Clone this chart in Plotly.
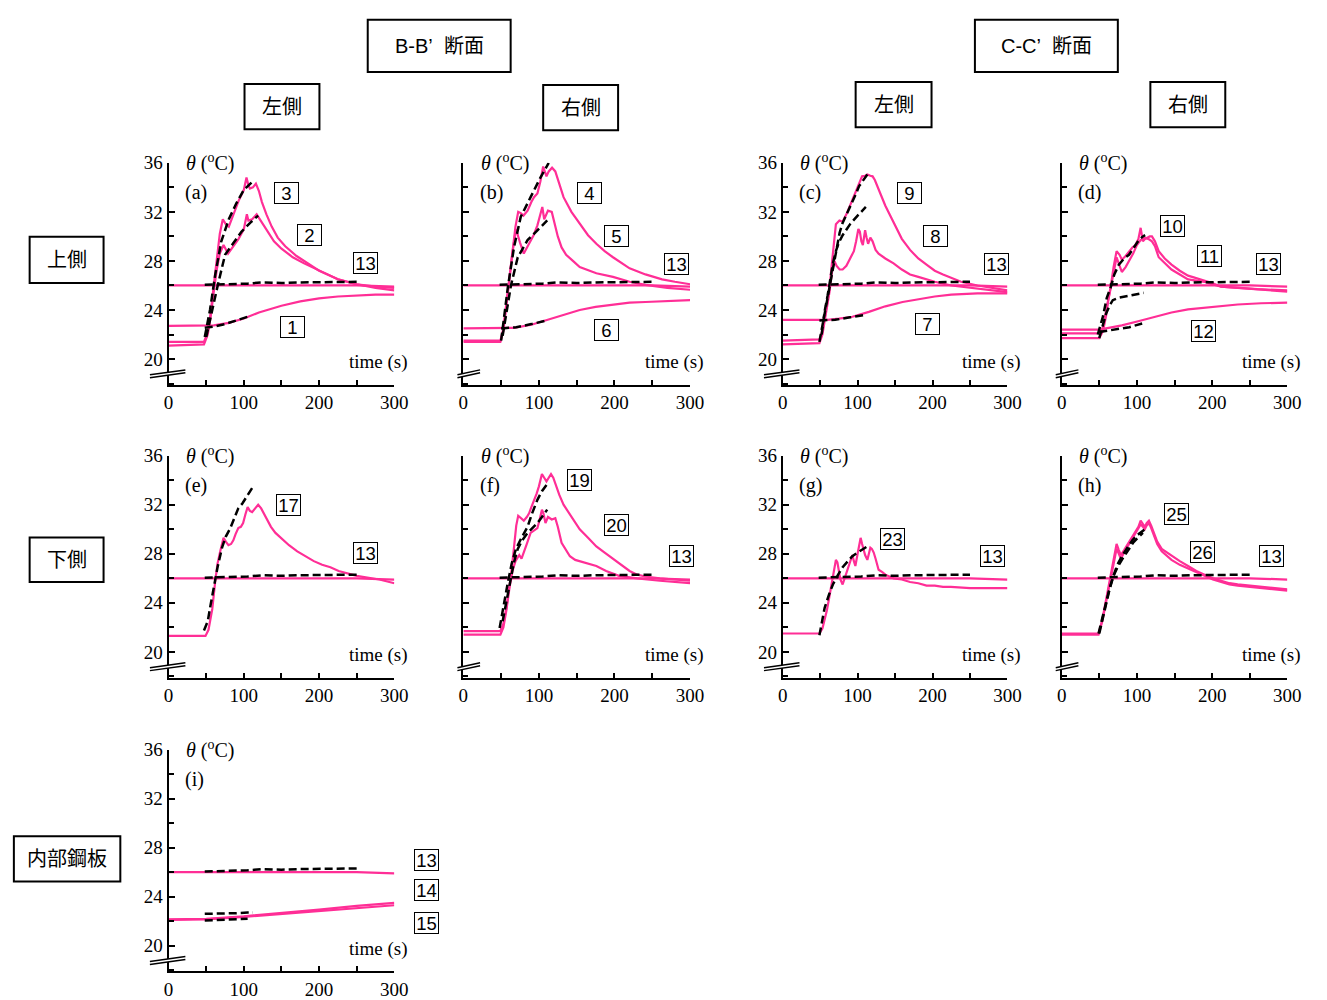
import plotly.graph_objects as go

W, H = 1327, 1000
PINK = "#FF2E96"
SERIF = "Liberation Serif, Times New Roman, serif"
SANS = "Liberation Sans, Arial, Noto Sans CJK JP, sans-serif"

# ---------------- data (time s, temperature degC) ----------------
# sensor 13 (appears in every panel)
L13_T = [0, 50, 100, 150, 200, 250, 300]
L13_V = [26.0, 26.0, 26.05, 26.05, 26.05, 26.0, 25.9]
D13_T = [48, 80, 105, 125, 150, 175, 200, 225, 250]
D13_V = [26.05, 26.1, 26.15, 26.25, 26.2, 26.25, 26.25, 26.3, 26.3]

# panel (a)
A1_T = [0, 48, 60, 80, 100, 120, 150, 175, 200, 225, 250, 275, 300]
A1_V = [22.7, 22.7, 22.75, 22.95, 23.3, 23.8, 24.35, 24.7, 24.95, 25.1, 25.2, 25.25, 25.25]
A1D_T = [48, 60, 75, 90, 105]
A1D_V = [22.55, 22.65, 22.85, 23.15, 23.45]
A2_T = [0, 47, 52, 56, 60, 64, 68, 73, 79, 86, 93, 100, 104, 106, 111, 117, 123, 130, 140, 150, 165, 180, 200, 225, 250, 275, 300]
A2_V = [21.1, 21.2, 22.0, 23.5, 25.5, 27.3, 28.6, 29.3, 28.6, 29.2, 29.8, 30.6, 31.8, 31.3, 31.4, 31.8, 31.2, 30.5, 29.6, 29.0, 28.3, 27.8, 27.2, 26.5, 26.1, 25.8, 25.6]
A3_T = [0, 47, 52, 56, 60, 64, 68, 72, 76, 80, 86, 93, 100, 103.5, 106, 108, 112, 116, 120, 124, 130, 137, 145, 155, 170, 185, 200, 225, 250, 275, 300]
A3_V = [21.4, 21.4, 22.2, 23.8, 26.0, 28.3, 30.2, 31.4, 31.0, 30.8, 31.8, 32.9, 33.8, 34.8, 34.2, 33.9, 34.0, 34.3, 33.7, 32.8, 31.8, 30.8, 29.9, 29.2, 28.4, 27.8, 27.2, 26.5, 26.1, 25.9, 25.8]
A2D_T = [50, 57, 66, 75, 85, 97, 110, 119]
A2D_V = [21.8, 23.8, 26.2, 28.5, 29.4, 30.4, 31.2, 31.7]
A3D_T = [48, 55, 62, 70, 80, 90, 100, 112]
A3D_V = [21.8, 24.0, 26.9, 29.6, 31.4, 32.7, 33.8, 34.5]

# panel (b)
B6_T = [0, 50, 67, 90, 111, 130, 154, 175, 198, 220, 241, 270, 300]
B6_V = [22.5, 22.5, 22.55, 22.8, 23.2, 23.6, 24.0, 24.25, 24.45, 24.6, 24.65, 24.75, 24.8]
B6D_T = [50, 70, 90, 111]
B6D_V = [22.5, 22.6, 22.85, 23.15]
B4_T = [0, 49, 53, 57, 61, 65, 69, 72.6, 76, 79.6, 85, 90, 93.5, 98, 102, 105.6, 110, 113, 117.4, 121.7, 127, 132.6, 143, 154, 165, 176, 187, 198, 210, 220, 241, 263, 280, 300]
B4_V = [21.5, 21.5, 22.5, 24.5, 26.8, 29.0, 30.8, 32.0, 31.9, 31.7, 32.1, 32.8, 33.2, 33.5, 34.5, 35.7, 34.9, 35.3, 35.6, 35.3, 34.2, 33.2, 32.0, 31.0, 30.1, 29.4, 28.8, 28.3, 27.8, 27.4, 26.9, 26.5, 26.3, 26.1]
B5_T = [0, 49, 53, 57, 61, 65, 69.6, 75, 80, 86, 93, 98, 103, 104.5, 107, 110, 112, 117, 121.7, 125, 130, 136, 145, 154, 176, 198, 220, 241, 270, 300]
B5_V = [21.4, 21.4, 22.3, 24.2, 26.5, 28.7, 30.6, 29.5, 28.6, 29.3, 30.1, 30.9, 32.2, 32.4, 31.4, 31.8, 32.1, 32.0, 30.8, 30.0, 29.1, 28.5, 28.0, 27.5, 27.0, 26.7, 26.3, 26.05, 25.8, 25.65]
B4D_T = [50, 54, 59, 67, 76, 89, 102, 113]
B4D_V = [21.5, 23.5, 25.9, 29.1, 31.6, 33.2, 34.8, 36.0]
B5D_T = [52, 57, 63, 72, 85, 98, 111]
B5D_V = [21.9, 23.8, 26.0, 28.3, 29.7, 30.5, 31.3]

# panel (c)
C7_T = [0, 50, 60, 75, 93, 115, 137, 160, 181, 203, 225, 260, 300]
C7_V = [23.2, 23.2, 23.2, 23.3, 23.45, 23.85, 24.3, 24.65, 24.9, 25.1, 25.25, 25.35, 25.35]
C7D_T = [49, 70, 90, 111]
C7D_V = [23.15, 23.2, 23.4, 23.6]
C9_T = [0, 49, 53, 57, 62, 66, 71, 75.7, 80, 85, 89, 93, 97.7, 102, 106, 110, 113, 117, 120, 123, 126, 131, 137, 148, 159, 170, 181, 192, 203, 214, 225, 238, 260, 280, 300]
C9_V = [21.5, 21.6, 22.3, 23.6, 25.5, 28.0, 31.0, 31.3, 31.2, 31.8, 32.4, 33.0, 33.6, 34.3, 34.9, 34.95, 35.05, 34.95, 34.9, 34.6, 34.1, 33.4, 32.5, 31.1, 29.8, 28.9, 28.2, 27.7, 27.2, 26.9, 26.6, 26.3, 26.0, 25.8, 25.6]
C8_T = [0, 49, 53, 57, 62, 66, 69, 72, 76, 80, 85, 90, 95, 98, 101, 103, 105, 107, 110, 112, 114, 117, 120, 124, 128, 137, 148, 159, 170, 181, 192, 203, 225, 250, 275, 300]
C8_V = [21.2, 21.3, 22.0, 23.5, 25.3, 27.2, 28.0, 27.6, 27.3, 27.3, 27.6, 28.2, 28.8, 29.6, 30.6, 30.4, 29.6, 29.3, 30.5, 29.9, 29.4, 29.9, 29.6, 28.9, 28.6, 28.2, 27.8, 27.3, 26.9, 26.7, 26.5, 26.3, 26.0, 25.8, 25.6, 25.45]
C9D_T = [49, 55, 62, 69, 76, 80, 87, 93, 98, 102, 108, 113]
C9D_V = [21.4, 23.4, 25.7, 28.2, 30.3, 31.1, 32.0, 32.8, 33.5, 34.1, 34.6, 35.05]
C8D_T = [52, 56, 60, 64, 67, 71, 75, 80, 90, 100, 111]
C8D_V = [22.0, 23.9, 25.2, 26.8, 27.8, 28.8, 29.5, 30.1, 31.0, 31.7, 32.4]

# panel (d)
D12_T = [0, 50, 59, 80, 103, 125, 146, 168, 190, 212, 234, 265, 300]
D12_V = [22.4, 22.4, 22.5, 22.75, 23.1, 23.45, 23.8, 24.05, 24.2, 24.35, 24.45, 24.55, 24.6]
D12D_T = [50, 70, 90, 107]
D12D_V = [22.2, 22.4, 22.6, 22.9]
D10_T = [0, 50, 55, 59, 62, 65.5, 69, 73, 77, 80, 85, 90, 94, 98, 102, 105, 108, 111, 113.5, 117, 120, 124, 129, 137, 146, 157, 168, 179, 190, 200, 212, 234, 260, 300]
D10_V = [22.1, 22.1, 22.6, 23.8, 25.0, 26.0, 27.5, 28.8, 28.5, 28.1, 28.4, 28.8, 29.1, 29.3, 29.8, 30.7, 29.6, 29.8, 29.9, 30.0, 30.0, 29.6, 28.8, 28.2, 27.7, 27.2, 26.8, 26.6, 26.4, 26.2, 25.9, 25.8, 25.7, 25.6]
D11_T = [0, 50, 55, 59, 62, 66, 70, 73, 77, 80, 85, 90, 95, 100, 105, 110, 115, 120, 124, 129, 137, 146, 157, 168, 179, 190, 200, 212, 234, 260, 300]
D11_V = [21.7, 21.7, 22.3, 23.5, 24.8, 26.2, 27.6, 28.3, 27.6, 27.1, 27.5, 28.0, 28.6, 29.3, 29.7, 29.9, 29.8, 29.6, 29.2, 28.3, 27.8, 27.3, 26.9, 26.5, 26.4, 26.3, 26.1, 25.9, 25.8, 25.7, 25.5]
D10D_T = [48, 55, 60, 65.5, 70, 76, 83, 89.5, 96, 102.6, 108, 111]
D10D_V = [22.0, 23.5, 25.0, 25.9, 26.9, 27.7, 28.2, 28.5, 29.1, 29.7, 30.0, 30.1]
D11D_T = [50, 55, 59, 64, 68, 76, 85, 94, 102, 109]
D11D_V = [21.7, 22.8, 23.7, 24.4, 24.8, 25.0, 25.1, 25.2, 25.3, 25.4]

# panel (e)
E17_T = [0, 49, 53, 58, 62, 65, 68.6, 73, 76, 79.5, 83, 86, 89, 92.6, 96, 99, 102, 105, 108, 111, 115, 119, 123, 129, 136, 142, 149, 160, 171, 182, 193, 204, 215, 226, 237, 250, 260, 280, 300]
E17_V = [21.3, 21.3, 21.8, 23.5, 25.8, 27.2, 28.2, 29.3, 29.0, 28.7, 28.8, 29.1, 29.6, 30.1, 30.2, 30.5, 31.2, 31.8, 31.5, 31.4, 31.7, 32.0, 31.7, 31.0, 30.2, 29.7, 29.3, 28.7, 28.2, 27.8, 27.4, 27.1, 26.9, 26.6, 26.4, 26.2, 26.1, 25.9, 25.6]
E17D_T = [47, 52, 56, 60, 65, 71, 76, 82, 87, 92.6, 98, 103.5, 108, 113.5]
E17D_V = [21.75, 22.5, 23.9, 25.2, 26.9, 28.5, 29.4, 30.1, 30.9, 31.7, 32.1, 32.6, 33.1, 33.6]

# panel (f)
F19_T = [0, 49, 53, 57, 60, 63, 67, 70, 72.6, 76, 80, 84, 87, 90, 93.5, 97, 100, 104, 107, 110, 113, 116, 119, 121.7, 127, 132.6, 143, 154, 165, 176, 187, 198, 209, 220, 230, 241, 260, 280, 300]
F19_V = [21.7, 21.7, 22.3, 23.6, 25.0, 26.2, 28.5, 30.3, 31.1, 30.9, 30.7, 31.0, 31.3, 31.8, 32.3, 32.9, 33.5, 34.5, 34.2, 33.9, 34.2, 34.5, 34.2, 33.7, 32.8, 32.0, 31.0, 30.0, 29.3, 28.6, 28.1, 27.6, 27.1, 26.6, 26.3, 26.15, 26.0, 25.9, 25.8]
F20_T = [0, 49, 53, 57, 61, 65, 69, 74, 77, 80, 84, 89, 93, 98, 101, 104, 106, 108.7, 112, 115, 117, 121.7, 125, 130, 136, 141, 148, 154, 165, 176, 189, 206, 230, 260, 300]
F20_V = [21.4, 21.4, 22.0, 23.4, 25.2, 26.6, 27.4, 27.9, 27.6, 28.2, 28.8, 29.7, 29.9, 30.1, 30.8, 31.6, 31.3, 30.5, 31.0, 30.9, 30.8, 30.9, 30.2, 28.9, 28.3, 27.8, 27.5, 27.4, 27.2, 27.0, 26.6, 26.2, 26.0, 25.8, 25.6]
F19D_T = [48, 53, 59, 64, 69.6, 77, 85, 91, 98, 104, 111]
F19D_V = [21.95, 23.8, 25.7, 27.2, 28.4, 29.3, 30.2, 31.3, 32.4, 33.1, 33.7]
F20D_T = [52, 57, 63, 67, 72, 78, 85, 91, 98, 104, 111]
F20D_V = [22.5, 24.2, 26.0, 27.3, 28.4, 29.1, 29.7, 30.1, 30.5, 31.0, 31.6]

# panel (g)
G23_T = [0, 49, 53, 56, 59, 62, 64.5, 66.7, 69, 71, 73, 74.6, 77, 80, 82, 84, 88, 91, 93, 95, 97, 100, 102, 104, 106, 108, 110, 113, 115, 117, 119, 121.5, 124, 128, 133, 137, 148, 159, 170, 181, 192, 203, 214, 224.5, 250, 275, 300]
G23_V = [21.5, 21.5, 21.9, 22.6, 23.4, 24.4, 25.2, 25.8, 26.8, 27.5, 27.3, 26.6, 25.9, 25.5, 25.9, 26.3, 27.0, 27.6, 27.9, 27.4, 27.0, 28.0, 28.8, 29.3, 28.8, 28.2, 27.9, 27.5, 28.0, 28.5, 28.4, 28.1, 27.6, 26.7, 26.5, 26.3, 26.0, 25.9, 25.7, 25.6, 25.4, 25.4, 25.3, 25.3, 25.2, 25.2, 25.2]
G23D_T = [49, 53, 56, 62, 67, 74, 80, 87, 93, 100, 106, 113]
G23D_V = [21.35, 22.5, 23.6, 24.7, 25.5, 26.3, 26.9, 27.4, 27.8, 28.1, 28.3, 28.6]

# panel (h)
H25_T = [0, 49, 54, 59, 62, 65.5, 69, 73, 76, 78.6, 83, 87, 92, 98, 102, 105, 108, 110.5, 113, 116, 119, 122, 127, 133, 140, 146, 157, 168, 179, 190, 201, 212, 223, 234, 260, 280, 300]
H25_V = [21.5, 21.5, 22.6, 24.2, 25.3, 26.3, 27.6, 28.8, 28.3, 27.9, 28.3, 28.7, 29.2, 29.8, 30.2, 30.7, 30.4, 30.2, 30.5, 30.7, 30.3, 29.8, 29.0, 28.4, 28.1, 27.8, 27.4, 27.0, 26.6, 26.3, 26.0, 25.8, 25.6, 25.5, 25.35, 25.2, 25.1]
H26_T = [0, 49, 54, 59, 62, 65.5, 69, 73, 76, 78.6, 83, 87, 92, 98, 102, 105, 108, 110.5, 113, 116, 119, 122, 127, 133, 140, 146, 157, 168, 179, 190, 201, 212, 223, 234, 260, 280, 300]
H26_V = [21.4, 21.4, 22.5, 24.0, 25.1, 26.1, 27.3, 28.4, 28.0, 27.6, 28.1, 28.5, 29.0, 29.6, 30.0, 30.4, 30.2, 30.0, 30.3, 30.5, 30.1, 29.6, 28.8, 28.2, 27.8, 27.5, 27.1, 26.8, 26.5, 26.2, 25.9, 25.7, 25.5, 25.4, 25.25, 25.1, 25.0]
H25D_T = [49, 54, 59, 63, 67.7, 74, 81, 87, 94, 100, 107, 111]
H25D_V = [21.5, 22.8, 23.9, 25.0, 26.0, 27.1, 27.9, 28.5, 29.1, 29.5, 29.8, 30.0]
H26D_T = [50, 55, 60, 64, 69, 75, 82, 88, 95, 101, 108]
H26D_V = [21.5, 22.9, 24.1, 25.2, 26.2, 27.0, 27.7, 28.3, 28.9, 29.3, 29.7]

# panel (i)
I14_T = [0, 50, 100, 150, 200, 250, 300]
I14_V = [22.15, 22.2, 22.4, 22.65, 22.95, 23.25, 23.5]
I15_T = [0, 50, 100, 150, 200, 250, 300]
I15_V = [22.1, 22.15, 22.35, 22.6, 22.85, 23.1, 23.3]
I14D_T = [48, 75, 90, 105, 112]
I14D_V = [22.6, 22.6, 22.65, 22.7, 22.7]
I15D_T = [48, 70, 90, 105]
I15D_V = [22.05, 22.1, 22.15, 22.2]

Y_TICKS = [20, 24, 28, 32, 36]
X_TICKS = [0, 100, 200, 300]
Y_RANGE = [17.91, 36.0]

# ---------------- layout geometry (pixels) ----------------
COLS = [(166, 395), (465, 695), (789, 1017), (1072, 1301)]
ROWS = [(155, 380), (452, 677), (750, 975)]

PANELS = [
    dict(tag="(a)", col=0, row=0, pink=[(A1_T, A1_V), (A2_T, A2_V), (A3_T, A3_V)],
         dash=[(A1D_T, A1D_V), (A2D_T, A2D_V), (A3D_T, A3D_V)],
         labels=[("3", 286, 186), ("2", 309, 228), ("13", 366, 257), ("1", 292, 321)]),
    dict(tag="(b)", col=1, row=0, pink=[(B6_T, B6_V), (B4_T, B4_V), (B5_T, B5_V)],
         dash=[(B6D_T, B6D_V), (B4D_T, B4D_V), (B5D_T, B5D_V)],
         labels=[("4", 593, 186), ("5", 620, 229), ("13", 681, 258), ("6", 610, 325)]),
    dict(tag="(c)", col=2, row=0, pink=[(C7_T, C7_V), (C8_T, C8_V), (C9_T, C9_V)],
         dash=[(C7D_T, C7D_V), (C8D_T, C8D_V), (C9D_T, C9D_V)],
         labels=[("9", 918, 186), ("8", 944, 229), ("13", 1006, 258), ("7", 936, 318)]),
    dict(tag="(d)", col=3, row=0, pink=[(D12_T, D12_V), (D10_T, D10_V), (D11_T, D11_V)],
         dash=[(D12D_T, D12D_V), (D10D_T, D10D_V), (D11D_T, D11D_V)],
         labels=[("10", 1184, 219), ("11", 1222, 249), ("13", 1282, 258), ("12", 1216, 326)]),
    dict(tag="(e)", col=0, row=1, pink=[(E17_T, E17_V)], dash=[(E17D_T, E17D_V)],
         labels=[("17", 288, 502), ("13", 366, 551)]),
    dict(tag="(f)", col=1, row=1, pink=[(F19_T, F19_V), (F20_T, F20_V)],
         dash=[(F19D_T, F19D_V), (F20D_T, F20D_V)],
         labels=[("19", 583, 477), ("20", 620, 522), ("13", 686, 554)]),
    dict(tag="(g)", col=2, row=1, pink=[(G23_T, G23_V)], dash=[(G23D_T, G23D_V)],
         labels=[("23", 900, 537), ("13", 1002, 554)]),
    dict(tag="(h)", col=3, row=1, pink=[(H25_T, H25_V), (H26_T, H26_V)],
         dash=[(H25D_T, H25D_V), (H26D_T, H26D_V)],
         labels=[("25", 1189, 511), ("26", 1215, 550), ("13", 1285, 554)]),
    dict(tag="(i)", col=0, row=2, pink=[(I14_T, I14_V), (I15_T, I15_V)],
         dash=[(I14D_T, I14D_V), (I15D_T, I15D_V)],
         labels=[("13", 428, 862), ("14", 428, 893), ("15", 428, 926)]),
]


def px(x):
    return x / W


def py(y):
    return 1 - y / H


fig = go.Figure()
shapes = []
annotations = []

for i, p in enumerate(PANELS):
    n = "" if i == 0 else str(i + 1)
    xa, ya = "x" + n, "y" + n
    x0, x1 = COLS[p["col"]]
    top, bot = ROWS[p["row"]]
    labeled_y = p["col"] in (0, 2)

    # measured (pink)
    fig.add_trace(go.Scatter(x=L13_T, y=L13_V, mode="lines", xaxis=xa, yaxis=ya,
                             line=dict(color=PINK, width=2.2), showlegend=False, hoverinfo="skip"))
    for t, v in p["pink"]:
        fig.add_trace(go.Scatter(x=t, y=v, mode="lines", xaxis=xa, yaxis=ya,
                                 line=dict(color=PINK, width=2.2), showlegend=False, hoverinfo="skip"))
    # simulated (black dashed)
    for t, v in [(D13_T, D13_V)] + p["dash"]:
        fig.add_trace(go.Scatter(x=t, y=v, mode="lines", xaxis=xa, yaxis=ya,
                                 line=dict(color="black", width=2.5, dash="8px,4px"),
                                 showlegend=False, hoverinfo="skip"))

    axis_common = dict(showline=True, linecolor="black", linewidth=2, showgrid=False,
                       zeroline=False, ticks="inside", tickcolor="black", tickwidth=1.5,
                       tickfont=dict(family=SERIF, size=19, color="black"))
    fig.update_layout(**{
        ("xaxis" + n): dict(domain=[px(x0), px(x1)], range=[0, 300], anchor=ya,
                            tickvals=X_TICKS, ticklen=5,
                            minor=dict(dtick=50, tick0=0, ticklen=5, ticks="inside",
                                       tickcolor="black", tickwidth=1.5),
                            **axis_common),
        ("yaxis" + n): dict(domain=[py(bot), py(top)], range=Y_RANGE, anchor=xa,
                            tickvals=Y_TICKS, ticklen=6, showticklabels=labeled_y,
                            minor=dict(dtick=2, tick0=0, ticklen=5, ticks="inside",
                                       tickcolor="black", tickwidth=1.5),
                            **axis_common),
    })

    # axis break marks
    left = x0 - (19 if labeled_y else 6)
    right = x0 + 17
    ya1, ya2 = bot - 7, bot - 12
    gap = 3
    slope = (ya2 - ya1) / (right - left)
    shapes.append(dict(type="path", xref="paper", yref="paper", layer="above",
                       path="M %f %f L %f %f L %f %f L %f %f Z" % (
                           px(x0 - 4), py(ya1 + slope * (x0 - 4 - left)),
                           px(x0 + 4), py(ya1 + slope * (x0 + 4 - left)),
                           px(x0 + 4), py(ya1 - gap + slope * (x0 + 4 - left)),
                           px(x0 - 4), py(ya1 - gap + slope * (x0 - 4 - left))),
                       fillcolor="white", line=dict(width=0)))
    for off in (0, -gap):
        shapes.append(dict(type="line", xref="paper", yref="paper", layer="above",
                           x0=px(left), y0=py(ya1 + off), x1=px(right), y1=py(ya2 + off),
                           line=dict(color="black", width=1.5)))

    # axis texts
    annotations.append(dict(x=px(x0 + 16), y=py(top), xref="paper", yref="paper",
                            xanchor="left", yanchor="middle", showarrow=False,
                            text="<i>θ</i> (<sup>o</sup>C)",
                            font=dict(family=SERIF, size=20, color="black")))
    annotations.append(dict(x=px(x0 + 15), y=py(top + 30), xref="paper", yref="paper",
                            xanchor="left", yanchor="middle", showarrow=False,
                            text=p["tag"], font=dict(family=SERIF, size=20, color="black")))
    annotations.append(dict(x=px(x1 + 16), y=py(top + 202), xref="paper", yref="paper",
                            xanchor="right", yanchor="middle", showarrow=False,
                            text="time (s)", font=dict(family=SERIF, size=19, color="black")))
    # boxed sensor numbers
    for txt, lx, ly in p["labels"]:
        annotations.append(dict(x=px(lx), y=py(ly), xref="paper", yref="paper",
                                xanchor="center", yanchor="middle", showarrow=False,
                                text=txt, width=21, height=18, align="center",
                                bordercolor="black", borderwidth=1, borderpad=1,
                                font=dict(family=SANS, size=18.5, color="black")))

# header / row boxes
BOXES = [
    ("B-B’&nbsp;&nbsp;断面", 368, 10, 513, 63),
    ("C-C’&nbsp;&nbsp;断面", 984, 10, 1129, 63),
    ("左側", 243, 75, 319, 121),
    ("右側", 546, 76, 622, 122),
    ("左側", 863, 73, 940, 119),
    ("右側", 1162, 73, 1238, 119),
    ("上側", 25, 230, 100, 277),
    ("下側", 25, 535, 100, 580),
    ("内部鋼板", 9, 838, 117, 884),
]
for txt, bx0, by0, bx1, by1 in BOXES:
    shapes.append(dict(type="rect", xref="paper", yref="paper", x0=px(bx0), y0=py(by1),
                       x1=px(bx1), y1=py(by0), line=dict(color="black", width=2),
                       fillcolor="white", layer="above"))
    annotations.append(dict(x=px((bx0 + bx1) / 2), y=py((by0 + by1) / 2), xref="paper",
                            yref="paper", xanchor="center", yanchor="middle", showarrow=False,
                            text=txt, font=dict(family=SANS, size=20, color="black")))

fig.update_layout(width=W, height=H, margin=dict(l=0, r=0, t=0, b=0),
                  paper_bgcolor="white", plot_bgcolor="white",
                  shapes=shapes, annotations=annotations)
fig.write_html("out.html", config={"displayModeBar": False},
               post_script="var gd=document.getElementById('{plot_id}');"
                           "gd.style.position='fixed';gd.style.left='0px';gd.style.top='0px';"
                           "document.documentElement.style.margin='0';"
                           "document.body.style.margin='0';document.body.style.padding='0';"
                           "document.body.style.overflow='hidden';"
                           "document.documentElement.style.overflow='hidden';")
